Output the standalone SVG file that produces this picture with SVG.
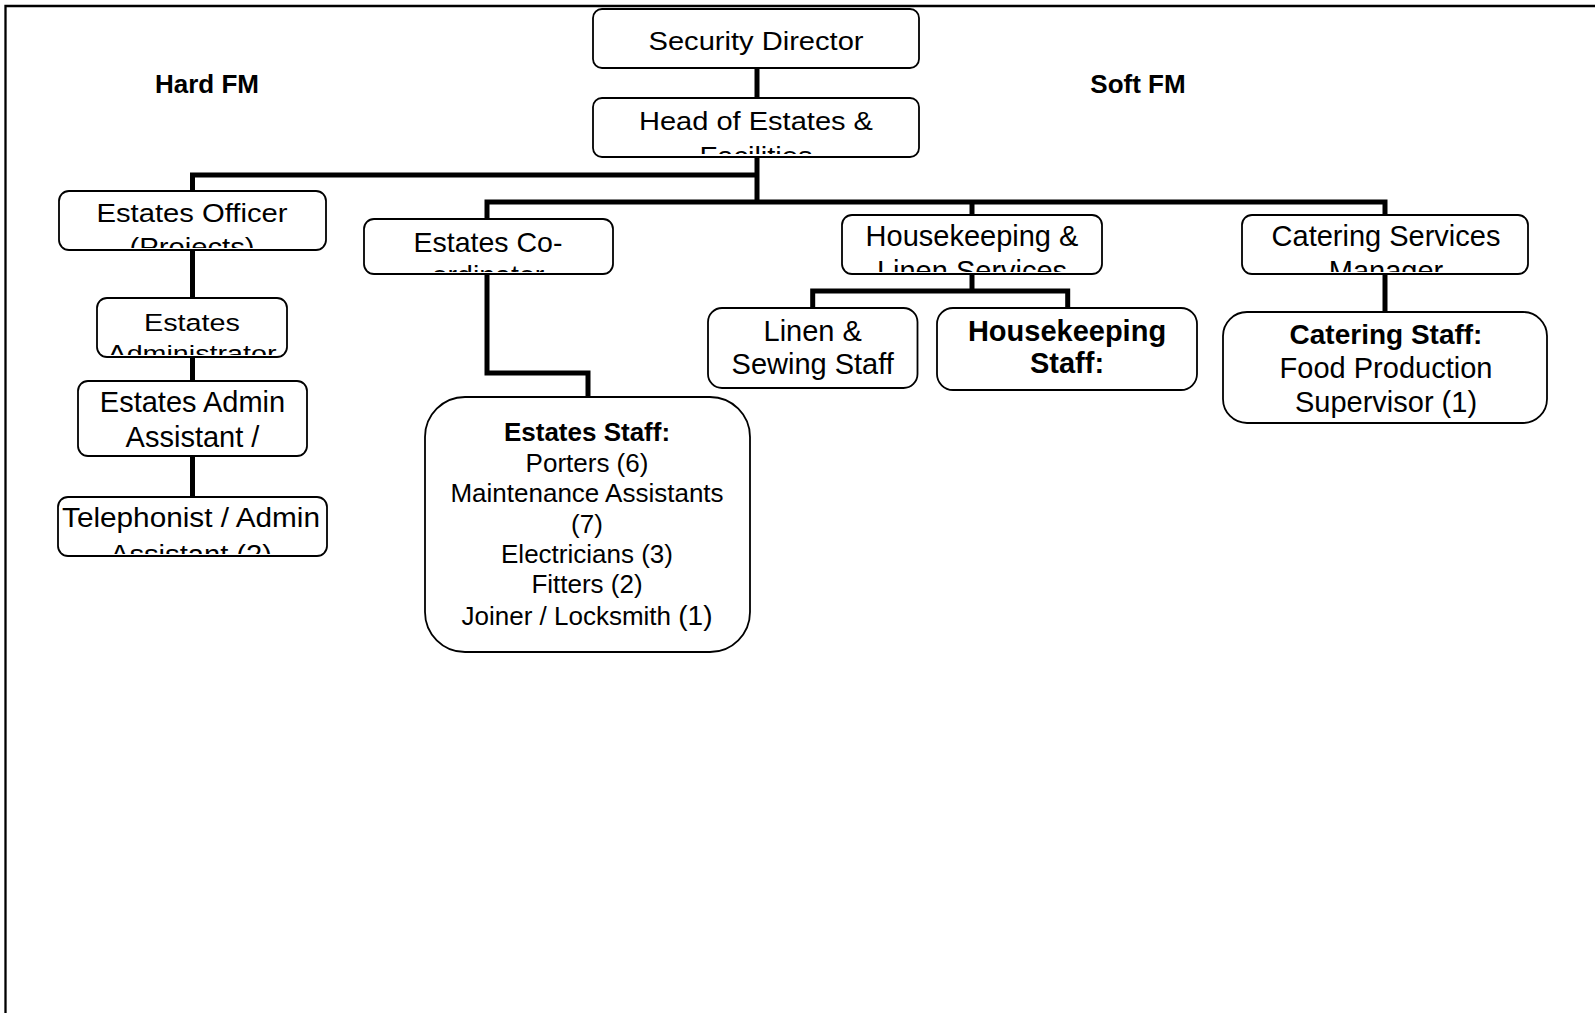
<svg xmlns="http://www.w3.org/2000/svg" width="1595" height="1013" viewBox="0 0 1595 1013">
<style>
text{font-family:"Liberation Sans",Arial,sans-serif;fill:#000;text-anchor:middle}
.b{font-weight:bold}
.box{fill:#fff;stroke:#000;stroke-width:1.8}
.conn{fill:none;stroke:#000;stroke-width:5;stroke-linejoin:miter;stroke-linecap:butt}
.frame{fill:none;stroke:#000;stroke-width:2.3}
.f29{font-size:29px}
.f26{font-size:26px}
</style>
<defs>
<clipPath id="cHead"><rect x="593" y="98" width="326" height="56"/></clipPath>
<clipPath id="cEO"><rect x="59" y="191" width="267" height="57"/></clipPath>
<clipPath id="cEA"><rect x="97" y="298" width="190" height="57"/></clipPath>
<clipPath id="cTel"><rect x="58" y="497" width="269" height="57"/></clipPath>
<clipPath id="cEC"><rect x="364" y="219" width="249" height="53"/></clipPath>
<clipPath id="cHK"><rect x="842" y="215" width="260" height="57"/></clipPath>
<clipPath id="cCat"><rect x="1242" y="215" width="286" height="57"/></clipPath>
<clipPath id="cHKS"><rect x="937" y="308" width="260" height="78"/></clipPath>
</defs>
<rect width="1595" height="1013" fill="#fff"/>
<path class="frame" d="M5.5,1013 V6 H1595"/>

<g id="labels">
<text class="b" x="207" y="93" font-size="26">Hard FM</text>
<text class="b" x="1138" y="93" font-size="26">Soft FM</text>
</g>

<g id="connectors">
<path class="conn" d="M757,68 V98"/>
<path class="conn" d="M757,157 V202"/>
<path class="conn" d="M757,175 H192.5 V191"/>
<path class="conn" d="M192.5,250 V497"/>
<path class="conn" d="M487,219 V202 H1385 V215"/>
<path class="conn" d="M972,202 V215"/>
<path class="conn" d="M487,274 V373 H588 V397"/>
<path class="conn" d="M972,274 V291"/>
<path class="conn" d="M812.7,308 V291 H1067.7 V308"/>
<path class="conn" d="M1385,274 V312"/>
</g>

<g id="security-director">
<rect class="box" x="593" y="9" width="326" height="59" rx="9"/>
<text x="756" y="50" font-size="25" textLength="215" lengthAdjust="spacingAndGlyphs">Security Director</text>
</g>

<g id="head-estates">
<rect class="box" x="593" y="98" width="326" height="59" rx="9"/>
<g clip-path="url(#cHead)">
<text x="756" y="130" font-size="25.5" textLength="234" lengthAdjust="spacingAndGlyphs">Head of Estates &amp;</text>
<text x="756" y="165" font-size="25.5" textLength="113" lengthAdjust="spacingAndGlyphs">Facilities</text>
</g>
</g>

<g id="estates-officer">
<rect class="box" x="59" y="191" width="267" height="59" rx="10"/>
<g clip-path="url(#cEO)">
<text x="192" y="222" font-size="25.6" textLength="191" lengthAdjust="spacingAndGlyphs">Estates Officer</text>
<text x="192" y="256" font-size="25.6" textLength="125" lengthAdjust="spacingAndGlyphs">(Projects)</text>
</g>
</g>

<g id="estates-administrator">
<rect class="box" x="97" y="298" width="190" height="59" rx="10"/>
<g clip-path="url(#cEA)">
<text x="192" y="331" font-size="24.5" textLength="96" lengthAdjust="spacingAndGlyphs">Estates</text>
<text x="192" y="362" font-size="24.5" textLength="169" lengthAdjust="spacingAndGlyphs">Administrator</text>
</g>
</g>

<g id="estates-admin-assistant">
<rect class="box" x="78" y="381" width="229" height="75" rx="10"/>
<text class="f29" x="192.5" y="412">Estates Admin</text>
<text class="f29" x="192.5" y="447">Assistant /</text>
</g>

<g id="telephonist">
<rect class="box" x="58" y="497" width="269" height="59" rx="10"/>
<g clip-path="url(#cTel)">
<text x="191" y="527" font-size="27" textLength="258" lengthAdjust="spacingAndGlyphs">Telephonist / Admin</text>
<text x="191" y="564" font-size="27" textLength="162" lengthAdjust="spacingAndGlyphs">Assistant (2)</text>
</g>
</g>

<g id="estates-coordinator">
<rect class="box" x="364" y="219" width="249" height="55" rx="10"/>
<g clip-path="url(#cEC)">
<text x="488" y="252" font-size="28.5">Estates Co-</text>
<text x="488" y="285" font-size="28.5">ordinator</text>
</g>
</g>

<g id="estates-staff">
<rect class="box" x="425" y="397" width="325" height="255" rx="40"/>
<text class="f26 b" x="587" y="441">Estates Staff:</text>
<text class="f26" x="587" y="472">Porters (6)</text>
<text class="f26" x="587" y="502">Maintenance Assistants</text>
<text class="f26" x="587" y="533">(7)</text>
<text class="f26" x="587" y="563">Electricians (3)</text>
<text class="f26" x="587" y="593">Fitters (2)</text>
<text class="f26" x="587" y="625">Joiner / Locksmith <tspan font-size="28">(1)</tspan></text>
</g>

<g id="housekeeping-linen">
<rect class="box" x="842" y="215" width="260" height="59" rx="10"/>
<g clip-path="url(#cHK)">
<text class="f29" x="972" y="246">Housekeeping &amp;</text>
<text class="f29" x="972" y="281">Linen Services</text>
</g>
</g>

<g id="linen-sewing">
<rect class="box" x="708" y="308" width="209.5" height="80" rx="14"/>
<text class="f29" x="812.7" y="341">Linen &amp;</text>
<text class="f29" x="812.7" y="374">Sewing Staff</text>
</g>

<g id="housekeeping-staff">
<rect class="box" x="937" y="308" width="260" height="82" rx="16"/>
<g clip-path="url(#cHKS)">
<text class="f29 b" x="1067" y="341">Housekeeping</text>
<text class="f29 b" x="1067" y="373">Staff:</text>
</g>
</g>

<g id="catering-manager">
<rect class="box" x="1242" y="215" width="286" height="59" rx="10"/>
<g clip-path="url(#cCat)">
<text class="f29" x="1386" y="246">Catering Services</text>
<text class="f29" x="1386" y="281">Manager</text>
</g>
</g>

<g id="catering-staff">
<rect class="box" x="1223" y="312" width="324" height="111" rx="24"/>
<text class="b" x="1386" y="344" font-size="28">Catering Staff:</text>
<text class="f29" x="1386" y="378">Food Production</text>
<text class="f29" x="1386" y="412">Supervisor (1)</text>
</g>
</svg>
